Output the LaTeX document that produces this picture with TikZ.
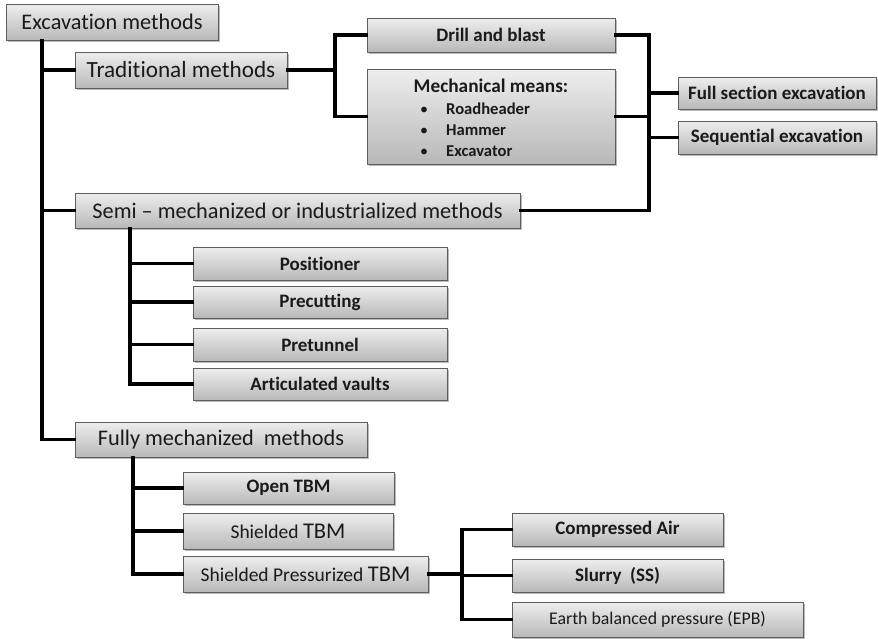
\documentclass[tikz,border=0pt]{standalone}
\usepackage{fontspec}
\setmainfont{Carlito}[Ligatures=NoCommon]
\usetikzlibrary{shadows}
\definecolor{boxtop}{HTML}{EEEEEE}
\definecolor{boxbot}{HTML}{B8B8B8}
\definecolor{boxline}{HTML}{5E5E5E}
\definecolor{txt}{HTML}{1A1A1A}
\tikzset{
  box/.style={draw=boxline, line width=0.9pt, top color=boxtop, bottom color=boxbot,
    inner sep=0pt, text=txt, anchor=center,
    drop shadow={shadow xshift=1.5pt, shadow yshift=-1.8pt, fill=black!45, opacity=0.6}},
  big/.style={box, font=\fontsize{22.3}{24}\selectfont},
  small/.style={box, font=\bfseries\fontsize{19}{21}\selectfont},
  conn/.style={draw=black, line width=3.2pt, line cap=rect},
  lbl/.style={inner sep=0pt, text=txt, font=\bfseries\fontsize{19.3}{21}\selectfont, anchor=base west}
}
\begin{document}
\begin{tikzpicture}[x=1pt,y=-1pt]
\useasboundingbox (0,0) rectangle (878,638);
% nodes
\node[big, minimum width=212, minimum height=36] (ex) at (112,22) {Excavation methods};
\node[big, font=\fontsize{23.2}{24}\selectfont, minimum width=212, minimum height=36] (trad) at (181,70) {Traditional methods};
\node[small, minimum width=248, minimum height=34] (drill) at (491,35) {Drill and blast};
\node[box, minimum width=248, minimum height=95] (mech) at (491,116.5) {};
\node[lbl, anchor=base] (mechT) at (491,92) {Mechanical means:};
\node[lbl, font=\fontsize{16}{18}\selectfont, anchor=base] (b1) at (424,114) {•};
\node[lbl, font=\fontsize{16}{18}\selectfont, anchor=base] (b2) at (424,135) {•};
\node[lbl, font=\fontsize{16}{18}\selectfont, anchor=base] (b3) at (424,156) {•};
\node[lbl, font=\bfseries\fontsize{16.6}{18}\selectfont] (r1) at (446,114) {Roadheader};
\node[lbl, font=\bfseries\fontsize{16.6}{18}\selectfont] (r2) at (446,135) {Hammer};
\node[lbl, font=\bfseries\fontsize{16.6}{18}\selectfont] (r3) at (446,156) {Excavator};
\node[small, minimum width=198, minimum height=32] (full) at (777,93) {Full section excavation};
\node[small, minimum width=198, minimum height=33] (seq) at (777,137.5) {Sequential excavation};
\node[big, minimum width=445, minimum height=35] (semi) at (297.5,210.5) {Semi – mechanized or industrialized methods};
\node[small, minimum width=254, minimum height=33] (pos) at (320,263.5) {Positioner};
\node[small, minimum width=254, minimum height=32] (prec) at (320,302) {Precutting};
\node[small, minimum width=254, minimum height=33] (pret) at (320,344.5) {Pretunnel};
\node[small, minimum width=254, minimum height=32] (art) at (320,384) {Articulated vaults};
\node[big, minimum width=292, minimum height=35] (fully) at (221,439.5) {Fully mechanized\ \ methods};
\node[small, minimum width=211, minimum height=32] (open) at (288.5,488) {Open TBM};
\node[small, font=\fontsize{19.5}{21}\selectfont, minimum width=210, minimum height=36] (shield) at (288,531) {Shielded {\fontsize{22.5}{21}\selectfont TBM}};
\node[small, font=\fontsize{19.5}{21}\selectfont, minimum width=245, minimum height=36] (shp) at (305.5,574) {Shielded Pressurized {\fontsize{22.5}{21}\selectfont TBM}};
\node[small, minimum width=211, minimum height=33] (comp) at (617.5,529.5) {Compressed Air};
\node[small, minimum width=211, minimum height=33] (slurry) at (617.5,575.5) {Slurry\ \ (SS)};
\node[small, font=\fontsize{17.8}{20}\selectfont, minimum width=291, minimum height=35] (epb) at (657.5,619.5) {Earth balanced pressure (EPB)};
% vertical line positions
\coordinate (v1) at (42,0);
\coordinate (v2) at (335,0);
\coordinate (v3) at (649,0);
\coordinate (v4) at (130,0);
\coordinate (v5) at (133,0);
\coordinate (v6) at (462,0);
% connectors: main trunk
\draw[conn] (v1 |- ex.south) -- (v1 |- fully.west);
\draw[conn] (v1 |- trad.west) -- (trad.west);
\draw[conn] (v1 |- semi.west) -- (semi.west);
\draw[conn] (v1 |- fully.west) -- (fully.west);
% traditional
\draw[conn] (trad.east) -- (v2 |- trad.east);
\draw[conn] (drill.west) -| (v2 |- mech.west) -- (mech.west);
% right trunk
\draw[conn] (drill.east) -| (v3 |- semi.east) -- (semi.east);
\draw[conn] (mech.east) -- (v3 |- mech.east);
\draw[conn] (v3 |- full.west) -- (full.west);
\draw[conn] (v3 |- seq.west) -- (seq.west);
% semi-mechanized
\draw[conn] (v4 |- semi.south) -- (v4 |- art.west) -- (art.west);
\draw[conn] (v4 |- pos.west) -- (pos.west);
\draw[conn] (v4 |- prec.west) -- (prec.west);
\draw[conn] (v4 |- pret.west) -- (pret.west);
% fully mechanized
\draw[conn] (v5 |- fully.south) -- (v5 |- shp.west) -- (shp.west);
\draw[conn] (v5 |- open.west) -- (open.west);
\draw[conn] (v5 |- shield.west) -- (shield.west);
% pressurized
\draw[conn] (shp.east) -- (v6 |- shp.east);
\draw[conn] (comp.west) -| (v6 |- epb.west) -- (epb.west);
\draw[conn] (v6 |- slurry.west) -- (slurry.west);
\end{tikzpicture}
\end{document}
